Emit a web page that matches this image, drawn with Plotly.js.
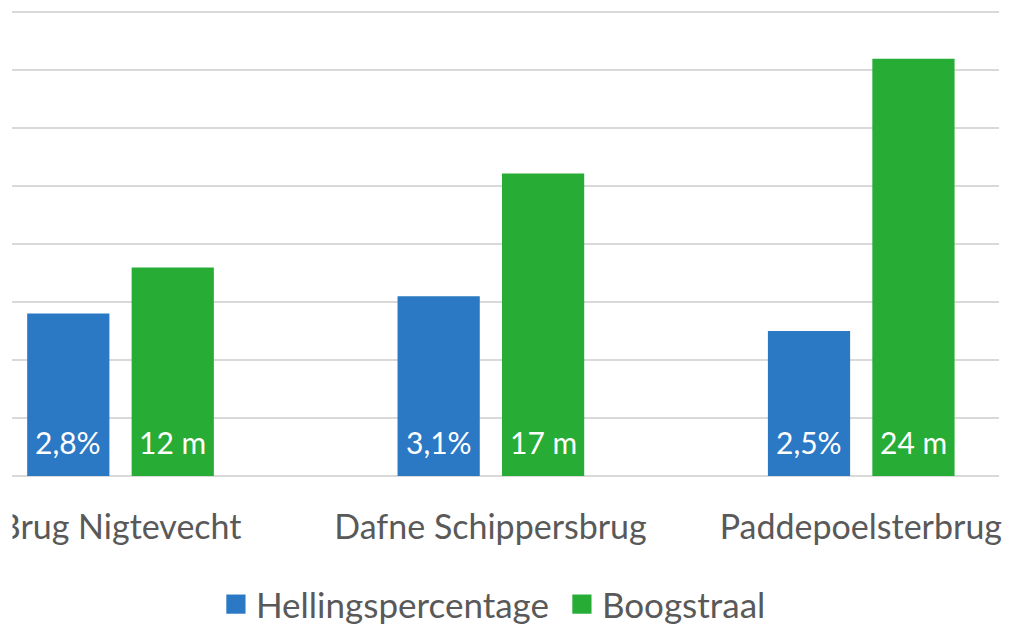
<!DOCTYPE html>
<html>
<head>
<meta charset="utf-8">
<script src="https://cdn.plot.ly/plotly-3.0.1.min.js"></script>
<style>
html,body{margin:0;padding:0;background:#fff;overflow:hidden;}
#chart{width:1010px;height:625px;}
</style>
</head>
<body>
<div id="chart"></div>
<script>
var categories = ["Brug Nigtevecht", "Dafne Schippersbrug", "Paddepoelsterbrug"];
var hellingValues = [2.8, 3.1, 2.5];
var boogValues = [12, 17.4, 24];
var seriesNames = ["Hellingspercentage", "Boogstraal"];

var FONT = "Lato, 'Open Sans', sans-serif";
var blue = "#2B78C5";
var green = "#27AC35";
var grid = "#D9D9D9";
var textGray = "#595959";

var BAR_W = 0.222;
var OFF_BLUE = -0.251;
var OFF_GREEN = 0.031;

var traces = [
  {
    type: "bar",
    name: seriesNames[0],
    x: categories,
    y: hellingValues,
    yaxis: "y",
    width: BAR_W,
    offset: OFF_BLUE,
    marker: {color: blue},
    hoverinfo: "skip"
  },
  {
    type: "bar",
    name: seriesNames[1],
    x: categories,
    y: boogValues,
    yaxis: "y2",
    width: BAR_W,
    offset: OFF_GREEN,
    marker: {color: green},
    hoverinfo: "skip"
  }
];

function fmtPct(v) { return v.toFixed(1).replace(".", ",") + "%"; }
function fmtM(v) { return Math.round(v) + " m"; }

var annotations = [];
categories.forEach(function (c, i) {
  annotations.push({
    xref: "x", yref: "y",
    x: i + OFF_BLUE + BAR_W / 2, y: 0,
    text: fmtPct(hellingValues[i]),
    showarrow: false, yanchor: "middle", xanchor: "center",
    yshift: 34,
    font: {family: FONT, size: 30, color: "#FFFFFF"}
  });
  annotations.push({
    xref: "x", yref: "y",
    x: i + OFF_GREEN + BAR_W / 2, y: 0,
    text: fmtM(boogValues[i]),
    showarrow: false, yanchor: "middle", xanchor: "center",
    yshift: 34,
    font: {family: FONT, size: 30, color: "#FFFFFF"}
  });
});

var Y1_MAX = 8.05;
var Y2_MAX = 26.7 * Y1_MAX / 8;

var layout = {
  width: 1010,
  height: 625,
  margin: {l: 12, r: 11, t: 9, b: 149, pad: 0, autoexpand: false},
  paper_bgcolor: "#FFFFFF",
  plot_bgcolor: "#FFFFFF",
  separators: ",.",
  showlegend: true,
  legend: {
    orientation: "h",
    xref: "paper", yref: "container",
    x: 0.2066, xanchor: "left",
    y: 0.033, yanchor: "middle",
    font: {family: FONT, size: 35, color: textGray},
    itemwidth: 30,
    entrywidth: 301,
    entrywidthmode: "pixels",
    tracegroupgap: 0
  },
  annotations: annotations,
  shapes: [
    {type: "rect", xref: "paper", yref: "paper", layer: "above",
     x0: -0.05, x1: 0.0005, y0: -0.25, y1: -0.01,
     fillcolor: "#FFFFFF", line: {width: 0}}
  ],
  xaxis: {
    type: "category",
    range: [-0.292, 2.373],
    showgrid: false,
    zeroline: false,
    showline: false,
    ticks: "",
    ticklabelstandoff: 28,
    tickfont: {family: FONT, size: 34, color: textGray}
  },
  yaxis: {
    range: [0, Y1_MAX],
    dtick: 1,
    showgrid: true,
    gridcolor: grid,
    gridwidth: 2,
    zeroline: true,
    zerolinecolor: grid,
    zerolinewidth: 2,
    showticklabels: false,
    ticks: ""
  },
  yaxis2: {
    overlaying: "y",
    side: "right",
    range: [0, Y2_MAX],
    showgrid: false,
    zeroline: false,
    showticklabels: false,
    ticks: ""
  }
};

Plotly.newPlot("chart", traces, layout, {displayModeBar: false, staticPlot: true}).then(function (gd) {
  // enlarge legend square markers to match the reference's legend keys
  var pts = gd.querySelectorAll(".legendpoints path");
  pts.forEach(function (p) {
    var t = p.getAttribute("transform") || "";
    p.setAttribute("transform", t + " scale(1.6)");
  });
});
</script>
</body>
</html>
